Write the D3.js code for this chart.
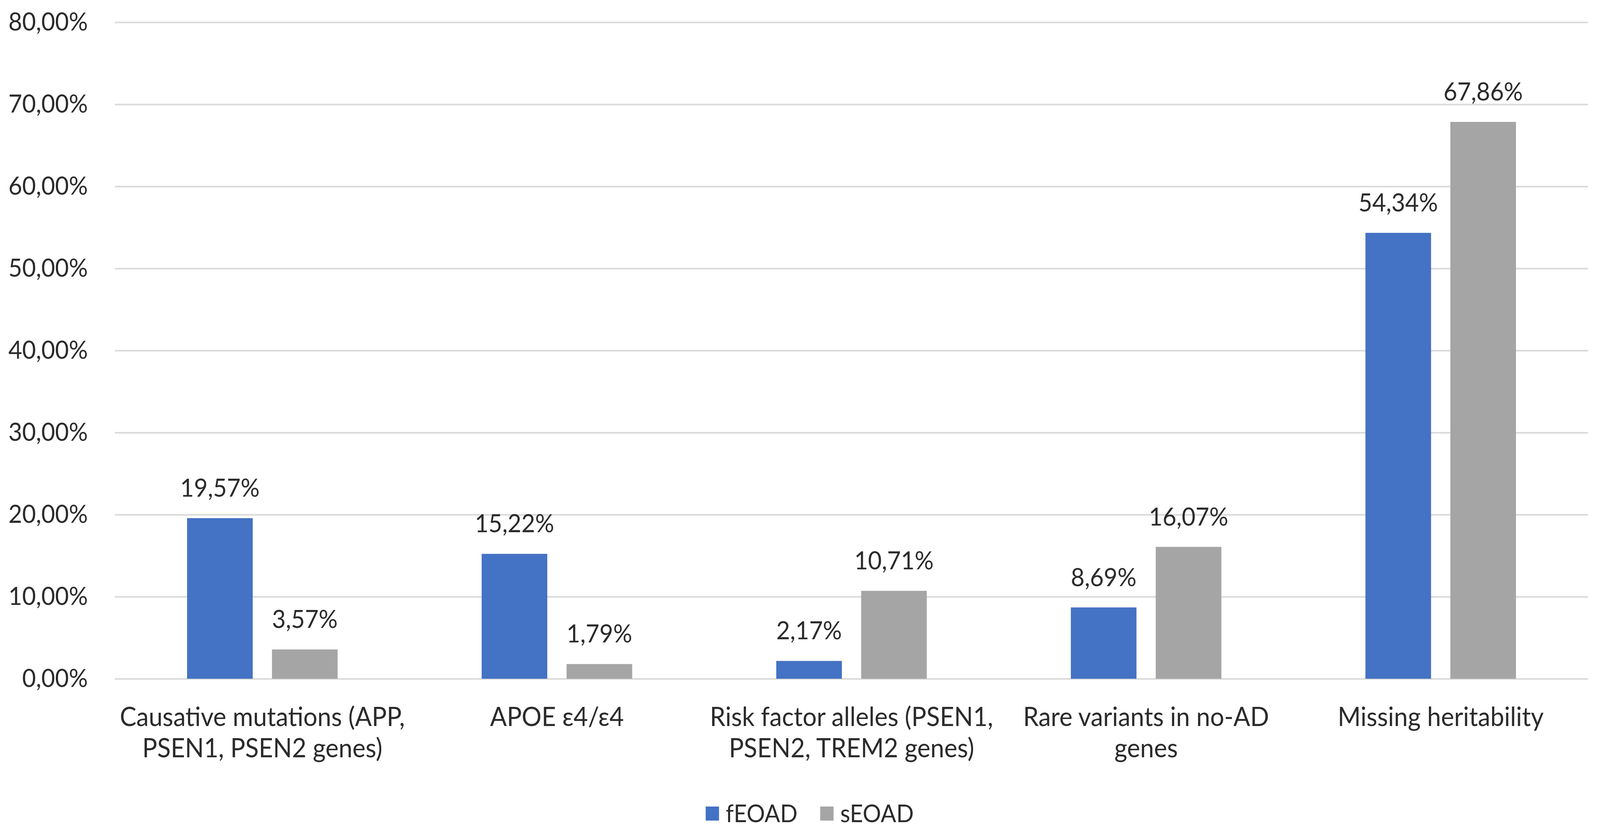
<!DOCTYPE html>
<html>
<head>
<meta charset="utf-8">
<script src="https://cdn.jsdelivr.net/npm/d3@7"></script>
<style>
    html, body { margin: 0; padding: 0; background: #fff; overflow: hidden; }
    svg { display: block; }
    text { font-family: Lato, "Open Sans", sans-serif; fill: #2b2b2b; }
</style>
</head>
<body>
<div id="chart"></div>
<script>
// Grouped bar chart, fEOAD vs sEOAD

// Data
// ---------------------------------------------------------
const categories = [
    ["Causative mutations (APP,", "PSEN1, PSEN2 genes)"],
    ["APOE ε4/ε4"],
    ["Risk factor alleles (PSEN1,", "PSEN2, TREM2 genes)"],
    ["Rare variants in no-AD", "genes"],
    ["Missing heritability"]
];
const seriesNames = ["fEOAD", "sEOAD"];
const fEOAD = [0.1957, 0.1522, 0.0217, 0.0869, 0.5434];
const sEOAD = [0.0357, 0.0179, 0.1071, 0.1607, 0.6786];
const yTicks = [0, 0.1, 0.2, 0.3, 0.4, 0.5, 0.6, 0.7, 0.8];

const colors = ["#4472C4", "#A5A5A5"];

// layout is drawn in a 4317 x 2142 box, stretched to fill the window
let width = 4317,
    height = 2142,
    plotLeft = 310,
    plotRight = 4285,
    plotTop = 57,
    plotBottom = 1737;

let locale = d3.formatLocale({decimal: ",", thousands: ".", grouping: [3], currency: ["", "€"]});
let pct = locale.format(".2%");

let rows = categories.map((c, i) => ({ idx: i, lines: c, values: [fEOAD[i], sEOAD[i]] }));

let svg = d3.select("#chart").append("svg")
    .attr("width", window.innerWidth)
    .attr("height", window.innerHeight)
    .attr("viewBox", `0 0 ${width} ${height}`)
    .attr("preserveAspectRatio", "none");

// Scales
// ---------------------------------------------------------
let x0 = d3.scaleBand()
    .domain(rows.map(d => d.idx))
    .range([plotLeft, plotRight])
    .paddingInner(0.489)
    .paddingOuter(0.245);

let x1 = d3.scaleBand()
    .domain([0, 1])
    .range([0, x0.bandwidth()])
    .paddingInner(0.227);

let y = d3.scaleLinear()
    .domain([0, 0.8])
    .range([plotBottom, plotTop]);

// Grid + y axis
// ---------------------------------------------------------
let yAxis = d3.axisLeft(y)
    .tickValues(yTicks)
    .tickFormat(pct)
    .tickSize(-(plotRight - plotLeft))
    .tickPadding(73);

let gY = svg.append("g")
    .attr("transform", `translate(${plotLeft},0)`)
    .call(yAxis);

gY.select(".domain").remove();
gY.selectAll(".tick line")
    .attr("stroke", "#D9D9D9")
    .attr("stroke-width", 4);
gY.selectAll(".tick text")
    .attr("font-size", 64)
    .attr("font-family", "Lato, sans-serif")
    .attr("fill", "#2b2b2b");

// Bars
// ---------------------------------------------------------
let groups = svg.selectAll(".group")
    .data(rows)
    .enter()
    .append("g")
    .attr("class", "group")
    .attr("transform", d => `translate(${x0(d.idx)},0)`);

groups.selectAll("rect")
    .data(d => d.values.map((v, s) => ({ s: s, v: v })))
    .enter()
    .append("rect")
    .attr("x", d => x1(d.s))
    .attr("y", d => y(d.v))
    .attr("width", x1.bandwidth())
    .attr("height", d => plotBottom - y(d.v))
    .attr("fill", d => colors[d.s]);

groups.selectAll(".valLabel")
    .data(d => d.values.map((v, s) => ({ s: s, v: v })))
    .enter()
    .append("text")
    .attr("class", "valLabel")
    .attr("x", d => x1(d.s) + x1.bandwidth() / 2)
    .attr("y", d => y(d.v) - 55)
    .attr("text-anchor", "middle")
    .attr("font-size", 64)
    .text(d => pct(d.v));

// Category labels
// ---------------------------------------------------------
let catLabels = svg.selectAll(".catLabel")
    .data(rows)
    .enter()
    .append("text")
    .attr("class", "catLabel")
    .attr("text-anchor", "middle")
    .attr("font-size", 67)
    .attr("transform", d => `translate(${x0(d.idx) + x0.bandwidth() / 2},1858)`);

catLabels.selectAll("tspan")
    .data(d => d.lines)
    .enter()
    .append("tspan")
    .attr("x", 0)
    .attr("y", (d, i) => i * 80)
    .text(d => d);

// Legend
// ---------------------------------------------------------
let legendX = [1904, 2213];

let legend = svg.selectAll(".legendItem")
    .data(seriesNames)
    .enter()
    .append("g")
    .attr("class", "legendItem")
    .attr("transform", (d, i) => `translate(${legendX[i]},2082)`);

legend.append("rect")
    .attr("x", 0)
    .attr("y", -18)
    .attr("width", 36)
    .attr("height", 36)
    .attr("fill", (d, i) => colors[i]);

legend.append("text")
    .attr("x", 54)
    .attr("y", 0)
    .attr("dy", "0.35em")
    .attr("font-size", 62)
    .text(d => d);
</script>
</body>
</html>
